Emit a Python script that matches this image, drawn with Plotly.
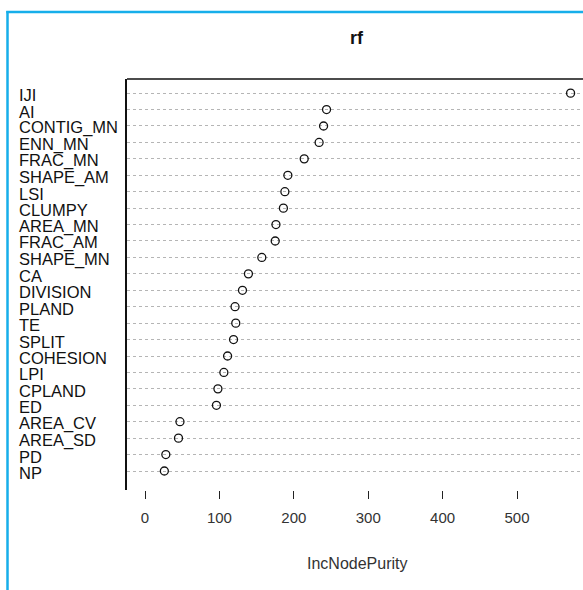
import plotly.graph_objects as go

# Data (top to bottom as in the chart)
variables = ["IJI", "AI", "CONTIG_MN", "ENN_MN", "FRAC_MN", "SHAPE_AM", "LSI",
             "CLUMPY", "AREA_MN", "FRAC_AM", "SHAPE_MN", "CA", "DIVISION", "PLAND",
             "TE", "SPLIT", "COHESION", "LPI", "CPLAND", "ED", "AREA_CV", "AREA_SD",
             "PD", "NP"]
inc_node_purity = [572, 244, 240, 234, 214, 192, 188, 186, 176, 175, 157, 139, 131,
                   121, 122, 119, 111, 106, 98, 96, 47, 45, 28, 26]
x_ticks = [0, 100, 200, 300, 400, 500]
title_text = "rf"
x_title = "IncNodePurity"

# plot bottom-to-top
cats = variables[::-1]
vals = inc_node_purity[::-1]

W, H = 583, 590
L, R, T, B = 127, 0, 79, 100
pw = W - L - R
ph = H - T - B

def px_to_paper_x(px):
    return (px - L) / pw

def px_to_paper_y(py):
    return (H - B - py) / ph

FONT = "Liberation Sans, Arial, sans-serif"

fig = go.Figure()
fig.add_trace(go.Scatter(
    x=vals, y=cats, mode="markers",
    marker=dict(symbol="circle-open", size=8, color="#111111",
                line=dict(width=1.3, color="#111111")),
    showlegend=False, hoverinfo="x+y", cliponaxis=False,
))

# left-aligned variable labels
for c in cats:
    fig.add_annotation(x=px_to_paper_x(17), xref="paper", y=c, yref="y",
                       text=c, showarrow=False, xanchor="left", yanchor="middle",
                       yshift=-2,
                       font=dict(family=FONT, size=16.5, color="#111111"))

# title
fig.add_annotation(x=px_to_paper_x(357), xref="paper", y=px_to_paper_y(38), yref="paper",
                   text="<b>%s</b>" % title_text, showarrow=False,
                   xanchor="center", yanchor="middle",
                   font=dict(family=FONT, size=18, color="#111111"))
# x title
fig.add_annotation(x=px_to_paper_x(357), xref="paper", y=px_to_paper_y(563), yref="paper",
                   text=x_title, showarrow=False, xanchor="center", yanchor="middle",
                   font=dict(family=FONT, size=16, color="#333333"))

# top box line
fig.add_shape(type="line", xref="paper", yref="paper",
              x0=0, x1=1, y0=px_to_paper_y(79), y1=px_to_paper_y(79),
              line=dict(color="#111111", width=1.5))
# blue frame
blue = "#16AEEA"
fig.add_shape(type="line", xref="paper", yref="paper",
              x0=px_to_paper_x(7.5), x1=px_to_paper_x(7.5),
              y0=px_to_paper_y(11), y1=px_to_paper_y(592),
              line=dict(color=blue, width=2.5))
fig.add_shape(type="line", xref="paper", yref="paper",
              x0=px_to_paper_x(6.3), x1=px_to_paper_x(585),
              y0=px_to_paper_y(12), y1=px_to_paper_y(12),
              line=dict(color=blue, width=2.5))

fig.update_layout(
    width=W, height=H,
    margin=dict(l=L, r=R, t=T, b=B, pad=0),
    plot_bgcolor="white", paper_bgcolor="white",
    font=dict(family=FONT, color="#111111"),
    xaxis=dict(range=[-24.2, 588.7], tickvals=x_ticks, ticks="outside", ticklen=8,
               tickwidth=1, tickcolor="#222222", showline=False, showgrid=False,
               zeroline=False, tickfont=dict(family=FONT, size=15, color="#333333"),
               ticklabelstandoff=6),
    yaxis=dict(type="category", categoryorder="array", categoryarray=cats,
               range=[-1.156, 23.86], showticklabels=False, ticks="",
               showline=True, linecolor="#111111", linewidth=1.5,
               showgrid=True, gridcolor="#b5b5b5", griddash="dot", gridwidth=1,
               zeroline=False),
)

fig.write_html("out.html", config={"displayModeBar": False},
               post_script="document.body.style.margin='0';")
